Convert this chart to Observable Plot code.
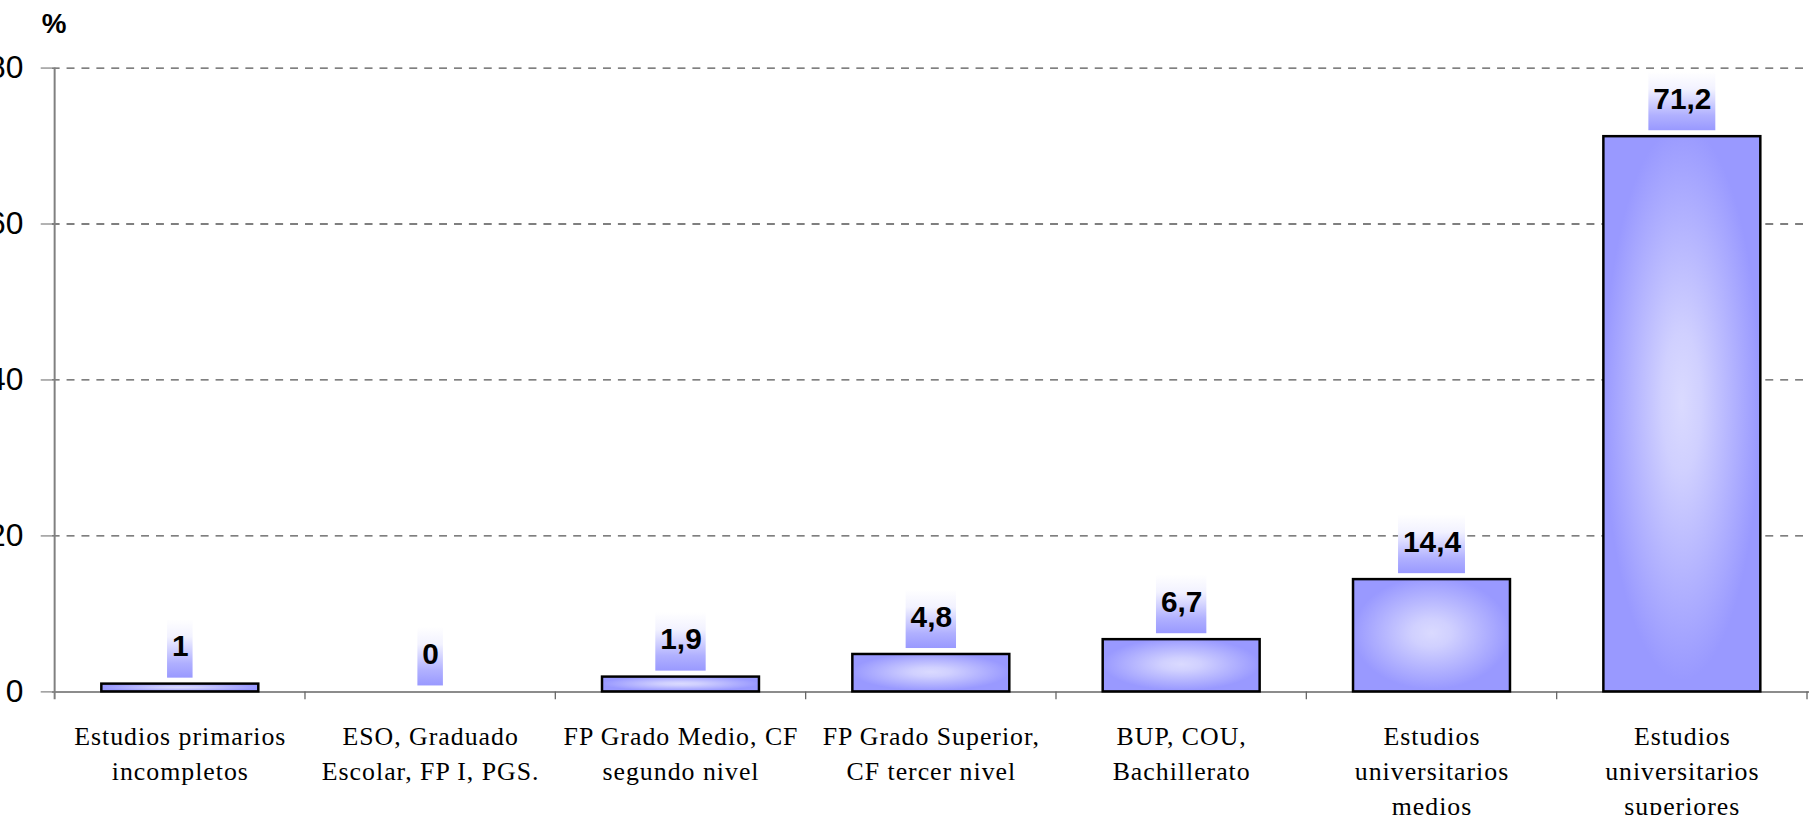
<!DOCTYPE html>
<html><head><meta charset="utf-8">
<script src="https://cdn.jsdelivr.net/npm/d3@7"></script>
<script src="https://cdn.jsdelivr.net/npm/@observablehq/plot@0.6"></script>
<style>
html,body{margin:0;padding:0;background:#fff;overflow:hidden;}
#chart svg{display:block;}
#chart g[aria-label="x-axis tick label"] text{letter-spacing:1px;}
</style></head><body><div id="chart"></div>
<script>
const categories = [
  "Estudios primarios\nincompletos",
  "ESO, Graduado\nEscolar, FP I, PGS.",
  "FP Grado Medio, CF\nsegundo nivel",
  "FP Grado Superior,\nCF tercer nivel",
  "BUP, COU,\nBachillerato",
  "Estudios\nuniversitarios\nmedios",
  "Estudios\nuniversitarios\nsuperiores"
];
const values = [1, 0, 1.9, 4.8, 6.7, 14.4, 71.2];
const yTicks = [0, 20, 40, 60, 80];
const gridTicks = [20, 40, 60, 80];
const yUnit = "%";

const data = categories.map((c, i) => ({cat: c, value: values[i]}));
const fmt = v => String(v).replace(".", ",");

const labelFont = "bold 30px 'Liberation Sans', Arial, sans-serif";
const cnv = document.createElement("canvas").getContext("2d");
cnv.font = labelFont;

function defsMark() {
  const defs = d3.create("svg:defs");
  const rg = defs.append("radialGradient").attr("id", "barGrad")
    .attr("cx", 0.5).attr("cy", 0.48).attr("r", 0.5);
  rg.append("stop").attr("offset", 0).attr("stop-color", "#dadaff");
  rg.append("stop").attr("offset", 0.25).attr("stop-color", "#d0d0ff");
  rg.append("stop").attr("offset", 1).attr("stop-color", "#9999ff");
  const lg = defs.append("linearGradient").attr("id", "boxGrad")
    .attr("x1", 0).attr("y1", 0).attr("x2", 0).attr("y2", 1);
  lg.append("stop").attr("offset", 0).attr("stop-color", "#ffffff");
  lg.append("stop").attr("offset", 0.3).attr("stop-color", "#f2f2ff");
  lg.append("stop").attr("offset", 0.75).attr("stop-color", "#b0b0ff");
  lg.append("stop").attr("offset", 1).attr("stop-color", "#9999ff");
  return defs.node();
}

function axisLines(index, scales) {
  const x = scales.x, y = scales.y;
  const bw = x.bandwidth();
  const g = d3.create("svg:g").attr("stroke", "#666");
  const x0 = x(categories[0]);
  g.append("line").attr("x1", x0).attr("x2", x0)
    .attr("y1", y(yTicks[yTicks.length - 1])).attr("y2", y(0) + 8)
    .attr("stroke", "#808080").attr("stroke-width", 2);
  categories.forEach(c => {
    const xe = x(c) + bw;
    g.append("line").attr("x1", xe).attr("x2", xe)
      .attr("y1", y(0)).attr("y2", y(0) + 8).attr("stroke-width", 1.3);
  });
  return g.node();
}

function labelBoxes(index, scales) {
  const x = scales.x, y = scales.y;
  const bw = x.bandwidth();
  const g = d3.create("svg:g");
  data.forEach(d => {
    const w = cnv.measureText(fmt(d.value)).width + 9;
    const cx = x(d.cat) + bw / 2;
    const bottom = y(d.value) - 6;
    g.append("rect").attr("x", cx - w / 2).attr("y", bottom - 59)
      .attr("width", w).attr("height", 59).attr("fill", "url(#boxGrad)");
  });
  return g.node();
}

const chart = Plot.plot({
  width: 1821,
  height: 820,
  marginLeft: 52,
  marginRight: 0,
  marginTop: 68,
  marginBottom: 124,
  style: {background: "#fff", color: "#000", fontFamily: "'Liberation Sans', Arial, sans-serif"},
  x: {domain: categories, padding: 0, label: null},
  y: {domain: [0, 80], label: null},
  marks: [
    defsMark,
    Plot.gridY(gridTicks, {stroke: "#555", strokeOpacity: 1, strokeWidth: 1.3, strokeDasharray: "8,7"}),
    Plot.ruleY([0], {stroke: "#666", strokeWidth: 1.5}),
    axisLines,
    Plot.axisY({ticks: yTicks, tickSize: 11, tickPadding: 18, fontSize: 32, stroke: "#666", fill: "#000", label: null}),
    Plot.barY(data, {filter: d => d.value > 0, x: "cat", y: "value", fill: "url(#barGrad)",
      stroke: "#000", strokeWidth: 2.5, insetLeft: 47, insetRight: 47}),
    labelBoxes,
    Plot.text(data, {x: "cat", y: "value", text: d => fmt(d.value), dy: -28, lineAnchor: "bottom",
      fontWeight: "bold", fontSize: 30, fill: "#000"}),
    Plot.axisX({tickSize: 0, tickPadding: 28, fontSize: 26, lineHeight: 1.36,
      fontFamily: "'Liberation Serif', 'Times New Roman', serif", fill: "#000", label: null}),
    Plot.text([yUnit], {frameAnchor: "top-left", text: d => d, dx: 2, dy: -35, lineAnchor: "bottom",
      textAnchor: "middle", fontWeight: "bold", fontSize: 28, fill: "#000"})
  ]
});
document.getElementById("chart").appendChild(chart);
</script>
</body></html>
